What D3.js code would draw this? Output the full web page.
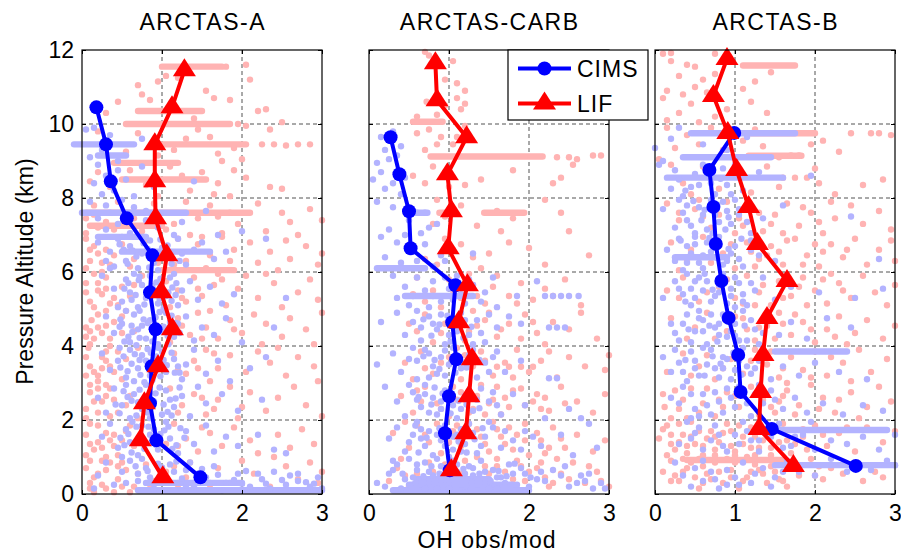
<!DOCTYPE html>
<html>
<head>
<meta charset="utf-8">
<script src="https://cdn.jsdelivr.net/npm/d3@7"></script>
<style>
body { margin: 0; background: #fff; }
text { font-family: "Liberation Sans", Arial, Helvetica, sans-serif; }
</style>
</head>
<body>
<div id="chart"></div>
<script>
var panelNames = ["ARCTAS-A", "ARCTAS-CARB", "ARCTAS-B"];
var xTicks = [0, 1, 2, 3];
var yTicks = [0, 2, 4, 6, 8, 10, 12];
var gridX = [1, 2];
var gridY = [2, 4, 6, 8, 10];
var seriesNames = ["CIMS", "LIF"];

// binned profiles (altitude km, OH obs/mod)
var altA = [0.45, 1.45, 2.45, 3.45, 4.45, 5.45, 6.45, 7.45, 8.45, 9.45, 10.45, 11.45];
var cimsA = [1.48, 0.93, 0.85, 0.87, 0.92, 0.85, 0.88, 0.56, 0.36, 0.30, 0.18];
var lifA = [1.01, 0.73, 0.78, 0.95, 1.13, 0.99, 1.06, 0.92, 0.91, 0.91, 1.125, 1.28];

var altC = [0.64, 1.64, 2.64, 3.64, 4.64, 5.64, 6.64, 7.64, 8.64, 9.64, 10.64, 11.64];
var cimsC = [1.01, 0.95, 1.00, 1.09, 1.04, 1.08, 0.52, 0.50, 0.38, 0.27];
var lifC = [1.03, 1.21, 1.25, 1.29, 1.12, 1.23, 0.99, 1.03, 0.98, 1.22, 0.85, 0.83];

var altB = [0.76, 1.76, 2.76, 3.76, 4.76, 5.76, 6.76, 7.76, 8.76, 9.76, 10.76, 11.76];
var cimsB = [2.51, 1.46, 1.07, 1.04, 0.92, 0.83, 0.76, 0.73, 0.68, 0.99];
var lifB = [1.73, 1.30, 1.32, 1.35, 1.40, 1.65, 1.28, 1.17, 1.02, 0.91, 0.73, 0.90];

// individual measurements, "ratio,altitude"
var lifPtsA = "1.05,11.3 0.95,11.15 1.8,11.55 2.05,11.6 2.1,11.2 0.75,10.8 0.85,10.65 1.55,10.9 0.7,11.05 1.2,11.25 " +
  "0.45,10.6 1.65,10.7 2.2,10.35 2.3,10.4 2.5,10.05 1.95,10.0 0.3,10.3 1.85,10.65 2.35,9.85 1.4,10.15 " +
  "2.25,9.45 2.4,9.45 2.55,9.42 2.7,9.45 2.85,9.45 0.2,9.8 0.7,9.75 1.7,9.2 1.3,9.6 1.6,9.65 1.9,9.35 2.0,9.05 1.75,9.0 0.95,9.15 1.15,9.3 0.55,9.25 1.45,9.85 2.05,9.95 " +
  "0.2,8.7 0.35,8.3 0.6,8.75 0.8,8.35 1.1,8.85 1.35,8.2 1.5,8.7 1.7,8.4 1.9,8.75 1.65,8.1 2.35,8.3 2.5,8.25 0.95,8.05 0.45,8.95 1.25,8.6 2.05,8.55 0.1,8.45 1.85,8.05 " +
  "0.15,7.8 0.45,7.9 0.3,7.35 1.3,7.9 1.6,7.8 2.2,7.85 2.5,7.6 2.85,7.7 2.6,7.35 1.95,7.3 1.75,7.05 2.3,7.1 0.75,7.1 1.15,7.3 1.45,7.45 2.7,7.0 3.0,7.4 0.05,7.05 1.85,7.6 " +
  "0.05,6.9 0.2,6.5 0.35,6.2 0.5,6.75 0.65,6.35 0.8,6.85 1.05,6.6 1.2,6.9 1.3,6.3 1.45,6.75 1.6,6.45 1.75,6.95 1.9,6.6 2.1,6.8 2.2,6.25 2.35,6.55 2.55,6.85 2.6,6.35 2.8,6.7 2.95,6.2 3.0,6.5 1.55,6.1 0.25,6.0 0.95,6.25 1.35,7.0 2.45,6.05 " +
  "0.05,5.7 0.1,5.2 0.3,5.85 0.25,5.4 0.45,5.1 0.5,5.6 0.6,5.35 0.75,5.9 1.05,5.75 1.2,5.5 1.3,5.2 1.4,5.85 1.5,5.35 1.65,5.65 1.8,5.1 1.95,5.55 2.05,5.9 2.2,5.3 2.4,5.7 2.5,5.05 2.7,5.45 2.85,5.8 2.95,5.25 1.1,5.05 0.15,5.95 2.3,5.95 1.75,5.8 " +
  "0.05,4.5 0.2,4.85 0.35,4.2 0.4,4.65 0.55,4.95 0.65,4.4 1.2,4.75 1.35,4.3 1.45,4.9 1.55,4.5 1.7,4.2 1.85,4.7 2.0,4.35 2.15,4.85 2.3,4.6 2.5,4.25 2.6,4.75 2.8,4.45 3.0,4.9 2.9,4.05 0.1,4.05 1.1,4.1 1.6,4.95 2.25,4.05 " +
  "0.05,3.7 0.15,3.3 0.3,3.85 0.35,3.45 0.5,3.1 0.55,3.65 1.15,3.8 1.3,3.25 1.4,3.6 1.55,3.9 1.7,3.4 1.85,3.75 2.05,3.3 2.2,3.85 2.35,3.55 2.55,3.2 2.7,3.7 2.9,3.45 2.95,3.05 0.7,3.95 1.6,3.05 2.45,3.95 0.2,3.05 " +
  "0.05,2.3 0.1,2.75 0.25,2.5 0.3,2.95 0.45,2.2 0.6,2.65 1.1,2.85 1.25,2.4 1.4,2.7 1.55,2.15 1.7,2.55 1.85,2.9 2.0,2.35 2.1,2.75 2.3,2.25 2.45,2.6 2.65,2.9 2.8,2.4 3.0,2.1 0.7,2.05 1.95,2.05 " +
  "0.05,1.6 0.15,1.2 0.2,1.85 0.35,1.45 0.45,1.05 0.55,1.7 0.65,1.3 1.15,1.9 1.3,1.5 1.45,1.15 1.6,1.65 1.75,1.3 1.9,1.8 2.1,1.45 2.2,1.1 2.45,1.6 2.6,1.25 2.75,1.75 2.9,1.35 2.4,1.0 1.05,1.35 0.3,1.0 " +
  "0.05,0.7 0.1,0.3 0.2,0.55 0.3,0.15 0.35,0.85 0.45,0.4 0.55,0.65 0.65,0.2 0.8,0.8 1.05,0.6 1.2,0.25 1.35,0.85 1.5,0.5 1.7,0.7 1.85,0.3 2.0,0.9 2.15,0.55 2.35,0.2 2.55,0.75 2.7,0.4 2.85,0.85 2.95,0.3 3.0,0.6 0.15,0.05 0.4,0.05 0.6,0.05 0.25,0.9 " +
  "0.1,6.3 0.2,5.5 0.12,4.7 0.25,4.35 0.08,3.95 0.3,3.6 0.15,2.5 0.35,2.1 0.1,1.9 0.4,1.6 0.2,1.4 0.45,0.75 0.3,6.6 0.4,5.3 0.2,3.2 0.1,2.95 0.5,4.8 0.4,3.3 0.05,6.1 0.15,4.2 " +
  "0.15,7.55 0.4,7.15 0.65,7.45 0.9,7.85 1.05,7.15 1.7,7.5 0.15,6.7 0.4,6.45 0.6,6.15 1.15,6.2 1.5,6.95 1.85,6.3 0.2,5.7 0.35,5.15 0.65,5.65 1.25,5.3 1.45,5.55 1.7,5.95 " +
  "0.1,4.4 0.3,4.55 0.5,4.35 1.25,4.55 1.5,4.2 1.9,4.45 0.1,3.45 0.25,3.7 0.45,3.85 1.2,3.35 1.45,3.4 1.65,3.8 0.2,2.85 0.4,2.55 0.55,2.4 1.2,2.2 1.5,2.6 1.65,2.3 " +
  "0.1,1.35 0.3,1.65 0.5,1.45 0.6,1.85 1.2,1.3 1.5,1.8 0.15,0.45 0.3,0.65 0.5,0.85 0.7,0.55 0.9,0.35 1.15,0.75 1.3,0.45 0.85,0.15 1.6,0.25 1.0,0.1 " +
  "0.05,7.45 0.2,7.2 0.1,6.6 0.25,6.25 0.05,5.45 0.3,5.55 0.15,5.05 0.3,4.95 0.05,4.25 0.2,4.5 0.35,4.0 0.05,3.2 0.25,3.4 0.35,2.85 0.05,2.05 0.2,2.2 0.3,2.65 0.05,1.05 0.25,1.25 0.4,1.3 0.1,0.15 0.25,0.25 0.5,0.2 0.1,0.9";
var lifStreaksA = [[11.55, 1.0, 1.75], [10.35, 0.7, 1.5], [10.0, 0.55, 1.85], [9.45, 0.9, 2.05], [8.95, 0.4, 1.2],
  [8.5, 0.5, 1.55], [7.6, 0.05, 2.1], [7.25, 0.1, 1.0], [6.05, 1.0, 1.9]];

var cimsPtsA = "0.05,9.85 0.15,9.9 0.35,9.7 0.75,9.6 0.25,9.3 0.45,9.0 0.1,9.1 " +
  "0.2,8.9 0.3,8.6 0.45,8.75 0.15,8.4 0.55,8.5 0.4,8.2 0.65,8.05 0.25,8.1 0.9,8.3 1.4,8.45 0.75,8.85 " +
  "0.1,7.9 0.3,7.8 0.5,7.95 0.65,7.75 0.8,7.4 0.45,7.3 0.3,7.15 0.95,7.2 1.15,7.0 0.6,7.05 1.25,7.35 1.55,7.65 2.0,7.1 0.2,7.45 1.7,7.0 " +
  "0.2,6.8 0.35,6.55 0.45,6.9 0.55,6.3 0.6,6.7 0.7,6.1 0.75,6.5 0.85,6.85 0.9,6.25 1.0,6.65 1.1,6.4 1.2,6.9 1.3,6.2 1.4,6.6 1.5,6.8 1.65,6.35 1.8,6.55 0.4,6.15 0.95,6.05 2.3,6.9 0.3,6.3 1.25,6.5 0.65,6.95 " +
  "0.25,5.9 0.4,5.55 0.5,5.2 0.55,5.8 0.6,5.45 0.7,5.05 0.75,5.65 0.8,5.3 0.85,5.9 0.95,5.15 1.0,5.6 1.05,5.35 1.1,5.85 1.2,5.1 1.25,5.5 1.35,5.75 1.45,5.25 1.6,5.6 1.75,5.15 0.65,5.95 0.9,5.5 1.15,5.95 0.45,5.05 1.9,5.4 2.55,5.3 " +
  "0.3,4.8 0.4,4.35 0.5,4.6 0.6,4.1 0.65,4.85 0.7,4.45 0.8,4.2 0.85,4.7 0.95,4.05 1.0,4.4 1.05,4.9 1.15,4.25 1.2,4.6 1.3,4.8 1.4,4.15 1.5,4.5 1.65,4.3 1.8,4.75 2.0,4.1 0.55,4.95 0.75,4.55 1.1,4.65 0.9,4.35 2.4,4.5 " +
  "0.25,3.8 0.35,3.35 0.45,3.6 0.55,3.15 0.6,3.9 0.7,3.4 0.75,3.75 0.85,3.2 0.9,3.55 1.0,3.85 1.05,3.3 1.15,3.65 1.25,3.1 1.3,3.5 1.4,3.9 1.55,3.25 1.7,3.6 1.85,3.05 2.1,3.4 2.3,3.7 0.65,3.05 0.95,3.95 1.2,3.45 0.8,3.6 " +
  "0.2,2.6 0.3,2.2 0.4,2.85 0.5,2.4 0.6,2.05 0.65,2.7 0.75,2.3 0.8,2.95 0.9,2.5 1.0,2.15 1.05,2.8 1.15,2.35 1.25,2.65 1.35,2.1 1.45,2.9 1.55,2.45 1.75,2.7 1.95,2.25 2.25,2.55 0.55,2.95 0.85,2.05 1.1,2.55 " +
  "0.25,1.55 0.35,1.9 0.45,1.25 0.55,1.75 0.6,1.4 0.7,1.05 0.75,1.85 0.85,1.6 0.95,1.2 1.05,1.95 1.1,1.5 1.2,1.1 1.3,1.7 1.4,1.35 1.55,1.85 1.65,1.15 1.8,1.55 1.95,1.3 2.2,1.6 2.4,1.2 2.55,1.1 0.9,1.75 0.5,1.0 " +
  "0.2,0.5 0.3,0.85 0.4,0.25 0.5,0.6 0.6,0.9 0.7,0.35 0.8,0.7 0.9,0.15 1.0,0.5 1.1,0.8 1.2,0.3 1.3,0.65 1.4,0.2 1.55,0.45 1.65,0.75 1.8,0.3 1.95,0.55 2.1,0.2 2.25,0.4 2.4,0.6 2.55,0.25 2.7,0.35 2.85,0.2 2.95,0.45 3.0,0.15 0.15,0.15 1.75,0.1 2.35,0.15 " +
  "0.52,6.6 0.68,6.42 0.82,6.62 0.98,6.88 1.12,6.22 0.58,5.7 0.72,5.88 0.88,5.62 0.98,5.82 1.08,5.45 1.18,5.7 0.62,5.25 0.78,5.12 0.92,5.38 1.02,5.02 1.12,5.22 " +
  "0.48,4.72 0.62,4.55 0.72,4.95 0.82,4.62 0.92,4.78 1.02,4.52 1.12,4.82 1.22,4.35 0.58,4.25 0.68,4.02 0.88,4.12 1.08,4.05 " +
  "0.52,3.72 0.62,3.52 0.72,3.62 0.82,3.92 0.92,3.32 1.02,3.62 1.12,3.82 1.22,3.28 0.48,3.42 0.78,3.02 0.98,3.18 " +
  "0.52,2.78 0.62,2.52 0.72,2.82 0.82,2.2 0.92,2.72 1.02,2.42 1.12,2.12 1.22,2.88 0.42,2.42 0.68,2.12 " +
  "0.58,1.62 0.68,1.82 0.78,1.22 0.88,1.42 0.98,1.62 1.08,1.82 1.18,1.32 1.28,1.52 0.48,1.52 0.62,1.12 " +
  "0.7,0.55 0.85,0.45 0.95,0.82 1.05,0.3 1.15,0.6 1.25,0.42 1.35,0.85 1.45,0.55 1.6,0.3 1.9,0.38 2.05,0.62 2.3,0.28 2.6,0.5 2.8,0.32 0.55,0.3 0.75,0.95 0.35,6.1 0.5,6.95 0.35,7.6 0.55,7.55 0.8,7.65 " +
  "0.47,6.75 0.63,6.58 0.77,6.78 0.93,6.45 1.07,6.72 1.22,6.3 0.57,6.22 0.84,6.12 0.53,5.55 0.67,5.38 0.83,5.48 0.97,5.28 1.13,5.58 0.71,5.78 0.93,5.72 1.17,5.38 " +
  "0.47,4.52 0.63,4.38 0.77,4.72 0.87,4.48 0.97,4.92 1.07,4.28 1.17,4.62 0.53,4.12 0.72,4.22 0.47,3.95 0.66,3.78 0.86,3.82 1.06,3.48 1.16,3.28 0.57,3.32 0.73,3.22 0.88,3.08 0.93,3.72 " +
  "0.57,2.62 0.7,2.48 0.83,2.62 0.97,2.88 1.07,2.22 1.17,2.58 0.47,2.18 0.88,2.38 0.63,1.95 0.73,1.58 0.83,1.82 0.93,1.32 1.03,1.72 1.13,1.22 1.23,1.78 0.53,1.32 " +
  "0.67,0.75 0.82,0.62 1.0,0.72 1.18,0.88 1.3,0.22 1.5,0.68 1.7,0.52 2.0,0.28 2.2,0.55 2.5,0.38 2.7,0.55 2.9,0.28";
var cimsStreaksA = [[9.45, -0.1, 0.65], [9.15, 0.2, 0.55], [7.6, 0.0, 1.3], [6.95, 0.2, 0.8], [6.55, 0.5, 1.6],
  [0.1, 0.7, 3.0], [0.3, 0.8, 2.0]];

var lifPtsC = "0.7,11.95 0.75,11.85 1.05,11.7 0.82,11.6 0.95,11.2 1.1,11.1 " +
  "0.72,10.6 0.85,10.75 1.1,10.7 1.15,10.4 1.2,10.55 1.2,10.9 0.85,10.25 0.6,10.2 0.95,10.5 " +
  "0.75,9.85 0.9,9.65 1.05,9.45 0.6,9.75 1.2,9.95 0.7,9.3 2.35,9.1 2.5,9.1 2.6,9.05 2.8,9.15 2.9,9.15 2.55,8.9 1.1,9.65 0.85,9.45 " +
  "0.8,8.85 0.95,8.7 1.4,8.5 1.8,8.75 0.7,8.4 1.0,8.3 2.3,8.4 2.4,8.55 0.55,8.6 1.2,8.35 " +
  "0.85,7.95 1.15,7.8 1.6,7.65 2.4,7.6 0.95,7.5 1.65,7.1 1.35,7.25 1.8,7.45 2.2,7.95 0.8,7.3 2.5,7.1 " +
  "0.95,6.9 1.05,6.6 1.3,6.4 1.15,6.75 1.5,6.5 0.7,6.35 1.75,6.8 2.2,6.2 2.75,6.45 2.0,6.65 1.4,6.1 0.85,6.2 " +
  "0.6,5.85 0.8,5.5 1.0,5.8 1.15,5.3 1.3,5.65 1.45,5.15 1.6,5.9 1.75,5.35 1.9,5.7 2.05,5.25 2.2,5.55 2.45,5.8 0.7,5.2 1.25,5.95 2.65,5.1 0.55,5.4 " +
  "0.5,4.6 0.7,4.85 0.9,4.35 1.05,4.7 1.2,4.15 1.35,4.55 1.5,4.9 1.6,4.25 1.75,4.6 1.95,4.85 2.1,4.35 2.3,4.65 2.5,4.45 2.65,4.9 1.3,4.95 0.8,4.1 2.2,4.05 2.85,4.2 " +
  "0.45,3.55 0.65,3.85 0.8,3.25 1.0,3.7 1.15,3.1 1.3,3.45 1.4,3.85 1.55,3.2 1.7,3.55 1.85,3.9 2.0,3.3 2.15,3.6 2.35,3.15 2.5,3.7 2.7,3.45 2.95,3.35 3.0,3.75 1.1,3.95 0.55,3.1 1.6,3.44 1.75,3.44 1.9,3.44 2.05,3.44 " +
  "0.4,2.65 0.55,2.2 0.7,2.9 0.85,2.45 1.0,2.1 1.15,2.75 1.3,2.3 1.4,2.95 1.55,2.55 1.65,2.15 1.8,2.8 1.95,2.4 2.1,2.7 2.25,2.25 2.4,2.9 2.6,2.5 2.8,2.2 2.95,2.7 1.5,2.45 2.05,2.5 1.2,2.55 0.65,2.5 " +
  "0.3,1.65 0.5,1.25 0.6,1.85 0.75,1.4 0.9,1.1 1.05,1.7 1.15,1.3 1.25,1.9 1.4,1.55 1.5,1.15 1.6,1.75 1.7,1.35 1.85,1.6 2.0,1.05 2.15,1.45 2.3,1.8 2.45,1.25 2.6,1.6 2.8,1.15 2.95,1.45 1.95,1.9 1.35,1.0 2.2,1.1 0.45,1.95 " +
  "0.25,0.35 0.35,0.7 0.5,0.2 0.6,0.55 0.75,0.85 0.85,0.3 1.0,0.65 1.1,0.15 1.2,0.9 1.3,0.45 1.45,0.75 1.55,0.25 1.7,0.6 1.85,0.9 1.95,0.35 2.1,0.7 2.25,0.2 2.4,0.55 2.55,0.85 2.7,0.3 2.85,0.6 3.0,0.2 0.4,0.95 1.6,0.95 2.35,0.95 " +
  "0.9,5.05 1.05,5.5 1.35,5.35 1.55,5.6 1.85,5.15 2.3,5.35 0.6,4.4 0.95,4.6 1.25,4.4 1.45,4.7 1.65,4.45 1.9,4.2 2.05,4.65 " +
  "0.7,3.4 0.9,3.55 1.2,3.75 1.45,3.6 1.8,3.15 2.25,3.85 0.6,2.8 0.9,2.3 1.1,2.55 1.35,2.65 1.6,2.9 1.75,2.35 2.2,2.6 2.45,2.45 " +
  "0.7,1.6 0.85,1.9 1.0,1.4 1.2,1.6 1.45,1.35 1.65,1.55 1.8,1.2 2.1,1.65 2.4,1.5 " +
  "0.45,0.5 0.65,0.4 0.8,0.6 0.95,0.2 1.15,0.55 1.4,0.3 1.6,0.75 1.8,0.4 2.0,0.6 2.2,0.45 2.5,0.4 2.75,0.75 2.9,0.35 " +
  "1.05,2.9 1.25,2.2 1.45,2.15 1.7,2.6 1.9,2.85 2.15,2.3 1.1,1.85 1.35,1.75 1.55,1.95 1.75,1.8 1.95,1.45 2.25,1.25 0.95,0.8 1.25,0.35 1.5,0.55 1.7,0.25 1.9,0.75 2.15,0.85 2.3,0.3";
var lifStreaksC = [[10.06, 0.55, 0.92], [9.12, 0.77, 2.17], [7.6, 1.44, 1.94], [7.6, 0.88, 1.08]];

var cimsPtsC = "0.15,9.65 0.3,9.8 0.2,9.3 0.35,9.15 0.1,8.95 0.25,9.05 0.4,9.4 " +
  "0.05,8.5 0.15,8.7 0.3,8.4 0.45,8.55 0.4,8.1 0.2,8.25 " +
  "0.1,7.9 0.3,7.75 0.6,7.6 0.7,7.6 0.5,7.4 0.25,7.15 0.45,7.0 0.75,7.2 0.65,7.05 0.85,7.3 " +
  "0.15,6.95 0.35,6.8 0.55,6.55 0.7,6.75 0.9,6.45 0.2,6.4 0.4,6.25 1.3,6.5 0.6,6.3 0.8,6.15 0.95,6.3 " +
  "0.3,5.9 0.45,5.6 0.6,5.85 0.7,5.5 0.8,5.75 0.9,5.2 1.0,5.55 1.1,5.9 1.2,5.15 1.3,5.65 1.45,5.45 1.55,5.85 1.6,5.05 2.1,5.75 0.5,5.1 1.15,5.4 0.75,5.05 0.35,5.3 " +
  "1.85,5.35 2.2,5.35 2.3,5.35 2.4,5.35 2.5,5.35 2.62,5.35 " +
  "0.15,4.65 0.35,4.9 0.45,4.3 0.55,4.65 0.65,4.15 0.75,4.8 0.85,4.45 0.95,4.05 1.05,4.6 1.15,4.9 1.25,4.3 1.35,4.7 1.45,4.1 1.6,4.5 1.75,4.8 1.9,4.6 2.25,4.5 2.35,4.5 2.45,4.5 0.6,4.95 1.0,4.3 1.3,4.05 " +
  "0.1,3.5 0.3,3.8 0.4,3.3 0.5,3.65 0.6,3.1 0.7,3.9 0.8,3.45 0.9,3.7 0.95,3.2 1.05,3.95 1.15,3.4 1.25,3.75 1.35,3.15 1.45,3.55 1.6,3.85 1.7,3.3 1.9,3.6 2.25,3.13 2.35,3.13 0.75,3.15 1.1,3.6 0.55,3.95 " +
  "0.2,2.9 0.35,2.5 0.45,2.1 0.55,2.75 0.65,2.35 0.7,2.95 0.8,2.6 0.85,2.15 0.95,2.8 1.05,2.4 1.1,2.05 1.2,2.65 1.3,2.25 1.4,2.85 1.5,2.5 1.65,2.15 1.8,2.7 1.95,2.4 2.2,2.05 2.5,2.3 2.65,2.05 0.6,2.55 1.0,2.6 0.9,2.3 " +
  "0.25,1.5 0.35,1.8 0.45,1.15 0.55,1.6 0.6,1.95 0.7,1.3 0.75,1.7 0.8,1.05 0.9,1.45 0.95,1.85 1.05,1.2 1.1,1.6 1.2,1.35 1.25,1.9 1.35,1.1 1.45,1.55 1.55,1.8 1.65,1.25 1.8,1.45 1.95,1.7 2.15,1.3 2.4,1.6 2.55,1.05 2.75,1.9 2.85,1.25 1.0,1.0 0.65,1.5 1.15,1.75 " +
  "0.1,0.3 0.25,0.55 0.35,0.8 0.45,0.4 0.5,0.95 0.6,0.65 0.65,0.25 0.7,0.85 0.8,0.5 0.85,0.15 0.9,0.75 1.0,0.35 1.05,0.9 1.1,0.6 1.2,0.2 1.25,0.75 1.3,0.5 1.4,0.9 1.45,0.3 1.55,0.65 1.65,0.45 1.75,0.8 1.85,0.25 1.95,0.55 2.1,0.4 2.3,0.65 2.5,0.2 2.65,0.5 2.8,0.15 2.9,0.3 0.75,0.3 0.95,0.55 1.15,0.4 1.35,0.25 1.6,0.15 " +
  "0.55,5.35 0.8,5.35 0.95,5.85 1.05,5.25 1.25,5.8 1.4,5.2 0.65,4.5 0.8,4.6 0.9,4.85 1.1,4.4 1.2,4.7 1.4,4.35 1.5,4.85 " +
  "0.6,3.6 0.75,3.8 0.85,3.25 1.0,3.5 1.2,3.55 1.3,3.9 1.5,3.3 1.55,3.7 0.5,2.95 0.7,2.7 0.75,2.2 0.9,2.5 1.15,2.3 1.25,2.8 1.35,2.55 1.55,2.75 1.6,2.4 " +
  "0.5,1.4 0.65,1.75 0.85,1.6 0.95,1.3 1.05,1.55 1.15,1.15 1.3,1.65 1.4,1.3 1.5,1.95 1.7,1.7 1.9,1.2 2.05,1.55 " +
  "0.3,0.65 0.4,0.15 0.55,0.45 0.6,0.8 0.7,0.15 0.75,0.6 0.85,0.95 0.9,0.35 0.95,0.7 1.0,0.15 1.05,0.45 1.1,0.8 1.15,0.25 1.2,0.55 1.3,0.7 1.35,0.4 1.45,0.6 1.5,0.15 1.6,0.45 1.7,0.3 1.8,0.55 1.9,0.7 2.0,0.2 2.2,0.35 2.4,0.5 2.6,0.3 2.75,0.55 2.95,0.15 0.2,0.2 0.3,0.9 " +
  "0.68,4.72 0.88,4.58 0.98,4.82 1.12,4.55 1.28,4.52 0.78,4.28 1.02,4.12 1.18,4.22 0.68,3.72 0.82,3.62 0.95,3.88 1.08,3.28 1.22,3.42 1.38,3.62 0.88,3.38 " +
  "0.62,2.62 0.78,2.42 0.92,2.72 1.02,2.18 1.12,2.52 1.22,2.42 1.38,2.32 0.82,2.88 0.58,1.85 0.72,1.52 0.88,1.78 1.0,1.68 1.12,1.42 1.22,1.12 1.32,1.48 1.42,1.78 0.62,1.12 " +
  "0.42,0.55 0.58,0.3 0.68,0.48 0.78,0.75 0.88,0.55 1.02,0.8 1.18,0.68 1.28,0.3 1.38,0.55 1.52,0.35 1.62,0.62 1.72,0.48 1.82,0.82 2.02,0.45 2.15,0.6 2.45,0.75 2.7,0.35";
var cimsStreaksC = [[7.6, 0.58, 0.73], [6.1, 0.1, 0.7], [5.35, 0.45, 1.3], [0.1, 0.3, 2.0], [0.25, 0.5, 1.8], [0.4, 0.6, 1.5]];

var lifPtsB = "0.1,11.9 0.2,11.92 0.75,11.9 0.9,11.88 0.4,11.6 0.5,11.55 0.3,11.3 0.6,11.2 0.15,10.9 1.25,11.15 0.5,11.0 1.45,11.4 0.75,11.35 0.2,11.7 " +
  "0.1,10.7 0.3,10.3 0.45,10.55 0.65,10.85 0.9,10.4 1.2,10.6 0.15,10.1 0.55,10.05 1.1,10.95 0.75,10.2 1.4,10.3 0.35,10.8 " +
  "0.15,9.9 0.4,9.7 0.55,9.45 0.7,9.9 0.85,9.3 1.1,9.55 1.35,9.4 1.55,9.1 1.7,9.15 1.8,9.15 2.45,9.75 2.7,9.75 2.8,9.75 2.95,9.7 0.25,9.35 1.95,9.45 2.1,9.55 0.05,9.05 1.25,9.85 2.3,9.25 " +
  "0.2,8.9 0.35,8.4 0.6,8.85 0.8,8.25 1.0,8.75 1.2,8.15 1.4,8.85 1.6,8.55 1.75,8.55 1.9,8.55 2.05,8.4 2.25,8.1 2.6,8.35 2.85,8.5 2.0,8.8 0.45,8.1 1.55,8.3 " +
  "0.15,7.85 0.3,7.4 0.5,7.7 0.7,7.2 0.9,7.9 1.05,7.45 1.2,7.75 1.35,7.1 1.5,7.55 1.65,7.85 1.8,7.25 1.95,7.6 2.1,7.05 2.25,7.45 2.45,7.8 2.6,7.3 2.8,7.65 2.95,7.15 2.2,7.9 1.45,7.3 0.6,7.5 1.0,7.05 " +
  "0.2,6.8 0.4,6.3 0.6,6.95 0.85,6.5 1.0,6.1 1.15,6.8 1.3,6.35 1.45,6.7 1.6,6.2 1.75,6.9 1.9,6.45 2.05,6.15 2.2,6.75 2.35,6.4 2.5,6.9 2.65,6.2 2.8,6.6 2.95,6.85 3.0,6.3 1.55,6.55 2.1,6.55 1.2,6.55 0.3,6.05 " +
  "0.15,5.5 0.35,5.85 0.55,5.2 0.8,5.6 1.0,5.3 1.15,5.9 1.3,5.45 1.45,5.1 1.55,5.75 1.7,5.35 1.85,5.85 2.0,5.5 2.15,5.15 2.3,5.7 2.45,5.3 2.6,5.9 2.75,5.45 2.9,5.1 3.0,5.65 1.9,5.1 1.25,5.1 2.2,5.95 " +
  "0.2,4.75 0.4,4.2 0.65,4.9 0.9,4.4 1.1,4.75 1.25,4.15 1.4,4.55 1.55,4.9 1.7,4.3 1.85,4.65 2.0,4.1 2.15,4.45 2.3,4.8 2.5,4.35 2.65,4.7 2.85,4.2 3.0,4.55 1.6,4.6 2.4,4.05 1.15,4.45 " +
  "0.15,3.3 0.35,3.8 0.55,3.45 0.75,3.1 0.95,3.65 1.1,3.25 1.25,3.9 1.4,3.5 1.55,3.15 1.7,3.7 1.85,3.35 2.0,3.85 2.15,3.2 2.35,3.55 2.55,3.9 2.7,3.3 2.9,3.65 1.65,3.0 2.45,3.05 " +
  "0.1,2.7 0.3,2.3 0.45,2.85 0.6,2.45 0.75,2.1 0.9,2.75 1.05,2.35 1.2,2.9 1.35,2.55 1.5,2.2 1.65,2.8 1.8,2.4 1.95,2.95 2.1,2.6 2.25,2.2 2.45,2.75 2.65,2.35 2.8,2.9 2.95,2.5 0.2,2.05 2.55,2.05 " +
  "0.05,1.5 0.15,1.85 0.25,1.2 0.35,1.6 0.45,1.95 0.5,1.35 0.6,1.05 0.7,1.7 0.8,1.4 0.9,1.9 1.0,1.15 1.1,1.55 1.2,1.8 1.3,1.25 1.4,1.65 1.55,1.4 1.7,1.1 1.85,1.55 2.0,1.85 2.15,1.3 2.3,1.65 2.5,1.15 2.65,1.8 2.85,1.4 3.0,1.7 0.3,1.4 0.65,1.5 0.95,1.3 1.25,1.55 1.6,1.9 0.4,1.1 1.15,1.0 " +
  "0.1,0.6 0.2,0.9 0.3,0.35 0.4,0.7 0.55,0.15 0.65,0.55 0.75,0.85 0.85,0.3 0.95,0.65 1.05,0.15 1.15,0.45 1.25,0.8 1.4,0.3 1.5,0.6 1.65,0.2 1.8,0.5 1.95,0.95 2.1,0.4 2.35,0.55 2.6,0.35 2.85,0.45 0.5,0.45 0.9,0.95 1.35,0.55 2.05,0.75 " +
  "0.3,7.6 0.55,7.95 0.8,7.55 1.1,7.25 1.3,7.6 1.6,7.05 1.85,7.75 2.05,7.35 0.45,6.6 0.7,6.25 0.95,6.75 1.25,6.15 1.4,6.45 1.65,6.85 1.85,6.2 2.0,6.75 2.4,6.6 " +
  "0.3,5.3 0.65,5.45 0.9,5.8 1.1,5.15 1.35,5.65 1.6,5.3 1.8,5.6 2.1,5.8 2.35,5.5 0.5,4.5 0.75,4.2 1.0,4.8 1.3,4.5 1.5,4.2 1.75,4.85 1.95,4.45 2.25,4.25 " +
  "0.45,3.2 0.65,3.75 0.85,3.4 1.2,3.6 1.45,3.85 1.6,3.4 1.95,3.15 2.2,3.7 0.35,2.55 0.55,2.2 0.8,2.55 1.1,2.7 1.3,2.15 1.55,2.5 1.75,2.15 2.05,2.3 2.3,2.55 " +
  "0.2,1.6 0.4,1.3 0.55,1.7 0.75,1.2 0.85,1.65 1.05,1.85 1.2,1.25 1.35,1.45 1.5,1.7 1.75,1.35 1.9,1.2 2.1,1.6 2.4,1.8 " +
  "0.25,0.5 0.45,0.85 0.6,0.3 0.8,0.6 1.0,0.85 1.1,0.35 1.3,0.65 1.55,0.4 1.75,0.75 2.2,0.7 2.5,0.8 2.75,0.6 " +
  "0.12,2.35 0.25,2.8 0.4,2.05 0.65,2.85 0.85,2.35 1.0,2.65 1.45,2.35 1.6,2.65 0.1,1.75 0.2,1.35 0.3,1.9 0.45,1.55 0.6,1.3 0.75,1.55 0.95,1.7 1.1,1.35 1.3,1.85 1.45,1.25 1.65,1.45 1.85,1.75 " +
  "0.15,1.05 0.35,0.95 0.55,0.95 0.75,1.05 1.0,1.05 1.25,1.05 1.45,1.05 0.2,0.35 0.35,0.6 0.6,0.75 0.7,0.4 0.95,0.45 1.2,0.6 1.45,0.75 1.6,0.35 2.0,0.5";
var lifStreaksB = [[11.58, 1.1, 1.75], [9.75, 1.2, 2.0], [9.14, 1.17, 1.83], [0.92, 0.4, 1.6]];

var cimsPtsB = "0.0,9.35 0.2,9.6 0.3,9.9 0.6,9.45 0.9,9.3 1.15,9.65 0.1,9.0 " +
  "0.05,8.9 0.25,8.75 0.45,8.3 0.6,8.9 0.75,8.1 0.9,8.35 1.1,8.2 0.35,8.05 1.3,8.7 0.2,8.25 1.0,8.9 1.95,8.6 " +
  "0.1,7.7 0.3,7.95 0.4,7.4 0.55,7.75 0.65,7.15 0.75,7.55 0.85,7.9 0.95,7.3 1.05,7.7 1.2,7.05 0.5,7.05 0.25,7.2 1.35,7.45 1.6,7.8 0.7,7.95 2.45,7.5 " +
  "0.15,6.6 0.3,6.9 0.4,6.25 0.5,6.75 0.6,6.1 0.7,6.55 0.8,6.95 0.9,6.3 1.0,6.7 1.1,6.15 1.2,6.85 1.3,6.45 0.35,6.05 0.65,6.8 1.5,6.3 0.95,6.5 2.8,6.35 " +
  "0.1,5.3 0.25,5.75 0.35,5.4 0.45,5.1 0.55,5.85 0.6,5.5 0.7,5.2 0.8,5.65 0.85,5.95 0.95,5.35 1.05,5.7 1.15,5.1 1.25,5.5 1.35,5.85 1.5,5.25 1.7,5.6 2.05,5.45 0.4,5.95 0.75,5.35 1.0,5.05 2.5,5.3 2.85,5.55 " +
  "0.2,4.6 0.3,4.15 0.4,4.85 0.5,4.4 0.6,4.7 0.65,4.05 0.75,4.5 0.85,4.85 0.9,4.25 1.0,4.6 1.1,4.95 1.15,4.15 1.25,4.45 1.4,4.8 1.55,4.3 1.7,4.65 1.9,4.2 2.15,4.75 2.45,4.5 0.55,4.95 0.8,4.3 1.3,4.05 " +
  "0.1,3.7 0.2,3.3 0.3,3.55 0.45,3.85 0.55,3.2 0.65,3.5 0.7,3.9 0.8,3.15 0.9,3.65 1.0,3.35 1.1,3.95 1.2,3.25 1.3,3.6 1.45,3.1 1.6,3.45 1.8,3.2 2.0,3.55 2.3,3.3 2.65,3.1 0.4,3.05 0.85,3.4 " +
  "0.2,2.6 0.35,2.9 0.5,2.3 0.6,2.7 0.7,2.15 0.8,2.5 0.9,2.85 1.0,2.35 1.1,2.65 1.2,2.1 1.35,2.45 1.45,2.8 1.6,2.3 1.75,2.6 1.9,2.2 2.1,2.45 2.35,2.15 2.6,2.4 2.85,2.25 0.45,2.05 1.3,2.95 " +
  "0.3,1.35 0.5,1.65 0.6,1.2 0.75,1.85 0.85,1.3 1.0,1.6 1.1,1.95 1.2,1.45 1.3,1.15 1.45,1.55 1.55,1.9 1.7,1.3 1.85,1.6 2.0,1.2 2.2,1.45 2.4,1.35 2.6,1.55 2.8,1.2 3.0,1.6 0.4,1.95 1.95,1.95 " +
  "0.35,0.5 0.45,0.2 0.6,0.35 0.7,0.6 0.8,0.15 1.0,0.45 1.2,0.3 1.35,0.7 1.5,0.45 1.65,0.9 1.8,0.6 2.0,0.5 2.2,0.95 2.4,0.6 2.7,0.65 2.9,0.9 3.0,0.78 0.25,0.85 1.1,0.85 0.9,0.25 " +
  "0.3,8.5 0.5,8.65 0.7,8.4 0.85,8.8 0.95,8.1 0.4,7.8 0.6,7.55 0.8,7.35 0.9,7.65 1.0,7.95 1.15,7.35 0.35,7.6 " +
  "0.5,6.95 0.6,6.45 0.75,6.7 0.85,6.2 1.05,6.35 1.2,6.6 0.25,6.3 0.4,6.7 0.3,5.55 0.5,5.3 0.65,5.75 0.8,5.45 0.9,5.15 1.0,5.85 1.1,5.4 1.2,5.7 0.45,5.55 " +
  "0.35,4.6 0.45,4.1 0.6,4.4 0.7,4.85 0.8,4.6 0.95,4.4 1.05,4.15 1.2,4.7 1.35,4.35 0.25,4.35 0.35,3.3 0.5,3.6 0.6,3.95 0.75,3.4 0.85,3.7 0.95,3.1 1.05,3.6 1.15,3.45 1.4,3.7 0.25,3.9 " +
  "0.3,2.45 0.45,2.7 0.55,2.1 0.65,2.4 0.75,2.75 0.85,2.2 0.95,2.6 1.05,2.9 1.15,2.45 1.25,2.7 1.5,2.55 " +
  "0.45,1.5 0.55,1.8 0.7,1.45 0.8,1.6 0.9,1.15 1.05,1.35 1.15,1.7 1.3,1.45 1.6,1.25 1.75,1.55 0.5,0.7 0.75,0.4 0.9,0.65 1.05,0.25 1.25,0.55 1.45,0.2 1.6,0.6 0.6,0.9 " +
  "0.38,8.2 0.55,8.35 0.68,8.68 0.82,8.52 0.48,7.92 0.62,7.68 0.78,7.82 0.92,7.48 1.05,7.55 0.45,7.25 0.58,7.4 0.72,7.05 0.88,7.15 " +
  "0.32,6.85 0.45,6.5 0.55,6.25 0.68,6.92 0.78,6.38 0.92,6.62 1.08,6.9 0.5,5.75 0.62,5.95 0.72,5.52 0.85,5.8 0.95,5.55 1.1,5.2 0.38,5.2 " +
  "0.55,4.75 0.68,4.55 0.78,4.12 0.88,4.72 1.0,4.28 1.12,4.55 0.42,4.45 0.5,3.4 0.62,3.2 0.72,3.72 0.82,3.52 0.98,3.82 1.08,3.22 1.25,3.4 0.38,3.62";
var cimsStreaksB = [[9.75, 0.45, 1.75], [9.1, 0.35, 1.45], [8.55, 0.15, 1.6], [6.4, 0.25, 0.9],
  [3.85, 1.5, 2.4], [1.73, 1.5, 2.9], [0.78, 1.5, 3.0]];

var lifColor = "#ff0000", cimsColor = "#0000ff";
var lifLight = "#ffb3b3", cimsLight = "#b3b3ff";

function parsePts(s) {
  return s.trim().split(/\s+/).map(function(p) {
    var a = p.split(",");
    return { x: +a[0], y: +a[1] };
  });
}
function profile(alt, vals) {
  return vals.map(function(v, i) { return { x: v, y: alt[i] }; });
}

var panels = [
  { name: panelNames[0], cims: profile(altA, cimsA), lif: profile(altA, lifA),
    cimsPts: parsePts(cimsPtsA), lifPts: parsePts(lifPtsA), cimsStreaks: cimsStreaksA, lifStreaks: lifStreaksA },
  { name: panelNames[1], cims: profile(altC, cimsC), lif: profile(altC, lifC),
    cimsPts: parsePts(cimsPtsC), lifPts: parsePts(lifPtsC), cimsStreaks: cimsStreaksC, lifStreaks: lifStreaksC },
  { name: panelNames[2], cims: profile(altB, cimsB), lif: profile(altB, lifB),
    cimsPts: parsePts(cimsPtsB), lifPts: parsePts(lifPtsB), cimsStreaks: cimsStreaksB, lifStreaks: lifStreaksB }
];

var W = 901, H = 552;
var panelLeft = [82, 369, 655];
var plotTop = 50, width = 240, height = 444;
var dotR = 3.2;

var x = d3.scaleLinear().domain([0, 3]).range([0, width]);
var y = d3.scaleLinear().domain([0, 12]).range([height, 0]);

// MATLAB style '^' marker, centroid on the point
var tri = "M0,-12L11.5,6L-11.5,6Z";

var svg = d3.select("#chart").append("svg")
    .attr("width", W)
    .attr("height", H);

var line = d3.line()
    .x(function(d) { return x(d.x); })
    .y(function(d) { return y(d.y); });

panels.forEach(function(p, i) {
  var g = svg.append("g")
      .attr("transform", "translate(" + panelLeft[i] + "," + plotTop + ")");

  g.append("rect")
      .attr("width", width).attr("height", height)
      .attr("fill", "#fff");

  // grid
  g.selectAll(".gx").data(gridX).enter().append("line")
      .attr("x1", function(d) { return x(d); }).attr("x2", function(d) { return x(d); })
      .attr("y1", 0).attr("y2", height)
      .attr("stroke", "#404040").attr("stroke-width", 0.9).attr("stroke-dasharray", "4,3");
  g.selectAll(".gy").data(gridY).enter().append("line")
      .attr("x1", 0).attr("x2", width)
      .attr("y1", function(d) { return y(d); }).attr("y2", function(d) { return y(d); })
      .attr("stroke", "#404040").attr("stroke-width", 0.9).attr("stroke-dasharray", "4,3");

  // scatter: LIF first, CIMS on top
  function cloud(streaks, pts, color) {
    g.append("g").selectAll("line").data(streaks).enter().append("line")
        .attr("x1", function(d) { return x(d[1]); })
        .attr("x2", function(d) { return x(d[2]); })
        .attr("y1", function(d) { return y(d[0]); })
        .attr("y2", function(d) { return y(d[0]); })
        .attr("stroke", color).attr("stroke-width", dotR * 2).attr("stroke-linecap", "round");
    g.append("g").selectAll("circle").data(pts).enter().append("circle")
        .attr("cx", function(d) { return x(d.x); })
        .attr("cy", function(d) { return y(d.y); })
        .attr("r", dotR)
        .attr("fill", color);
  }
  cloud(p.lifStreaks, p.lifPts, lifLight);
  cloud(p.cimsStreaks, p.cimsPts, cimsLight);

  // profiles
  g.append("path").datum(p.cims)
      .attr("d", line).attr("fill", "none")
      .attr("stroke", cimsColor).attr("stroke-width", 4).attr("stroke-linejoin", "round");
  g.selectAll(".cm").data(p.cims).enter().append("circle")
      .attr("cx", function(d) { return x(d.x); })
      .attr("cy", function(d) { return y(d.y); })
      .attr("r", 7).attr("fill", cimsColor);
  g.append("path").datum(p.lif)
      .attr("d", line).attr("fill", "none")
      .attr("stroke", lifColor).attr("stroke-width", 4).attr("stroke-linejoin", "round");
  g.selectAll(".lm").data(p.lif).enter().append("path")
      .attr("d", tri)
      .attr("transform", function(d) { return "translate(" + x(d.x) + "," + y(d.y) + ")"; })
      .attr("fill", lifColor);

  // axes with inward ticks
  g.append("g")
      .attr("transform", "translate(0," + height + ")")
      .call(d3.axisBottom(x).tickValues(xTicks).tickSize(-4).tickPadding(11).tickFormat(d3.format("d")));
  g.append("g").call(d3.axisTop(x).tickValues(xTicks).tickSize(-4).tickFormat(""));
  g.append("g")
      .attr("transform", "translate(" + width + ",0)")
      .call(d3.axisRight(y).tickValues(yTicks).tickSize(-4).tickFormat(""));
  g.append("g")
      .call(d3.axisLeft(y).tickValues(yTicks).tickSize(-4).tickPadding(8)
        .tickFormat(i === 0 ? d3.format("d") : ""));
  g.selectAll(".domain").remove();
  g.selectAll(".tick line").attr("stroke", "#000");
  g.selectAll(".tick text")
      .attr("font-family", "Liberation Sans, Arial, sans-serif")
      .attr("font-size", 23).attr("fill", "#000");

  g.append("rect")
      .attr("width", width).attr("height", height)
      .attr("fill", "none").attr("stroke", "#000").attr("stroke-width", 1.2);

  g.append("text")
      .attr("x", width / 2 + 0.7).attr("y", -20)
      .attr("text-anchor", "middle")
      .attr("font-size", 23).attr("letter-spacing", 1.5)
      .text(p.name);
});

// legend, sits over the middle panel
var legend = svg.append("g")
    .attr("transform", "translate(" + (panelLeft[1] + 139) + "," + plotTop + ")");
legend.append("rect")
    .attr("width", 140).attr("height", 70)
    .attr("fill", "#fff").attr("stroke", "#000").attr("stroke-width", 1.2);
var entries = legend.selectAll(".entry").data(seriesNames).enter().append("g")
    .attr("transform", function(d, i) { return "translate(0," + (18.5 + i * 35) + ")"; });
entries.append("line")
    .attr("x1", 10).attr("x2", 63)
    .attr("stroke", function(d, i) { return i ? lifColor : cimsColor; })
    .attr("stroke-width", 4);
entries.each(function(d, i) {
  var e = d3.select(this);
  if (i === 0) e.append("circle").attr("cx", 36.5).attr("r", 7).attr("fill", cimsColor);
  else e.append("path").attr("d", tri).attr("transform", "translate(36.5,0)").attr("fill", lifColor);
});
entries.append("text")
    .attr("x", 69).attr("y", 8.3)
    .attr("font-size", 23).attr("letter-spacing", 1)
    .text(function(d) { return d; });

svg.append("text")
    .attr("transform", "translate(33," + (plotTop + height / 2 - 0.5) + ") rotate(-90)")
    .attr("text-anchor", "middle")
    .attr("font-size", 23)
    .text("Pressure Altitude (km)");

svg.append("text")
    .attr("x", panelLeft[1] + width / 2 - 2).attr("y", 548)
    .attr("text-anchor", "middle")
    .attr("font-size", 23).attr("letter-spacing", 1)
    .text("OH obs/mod");
</script>
</body>
</html>
